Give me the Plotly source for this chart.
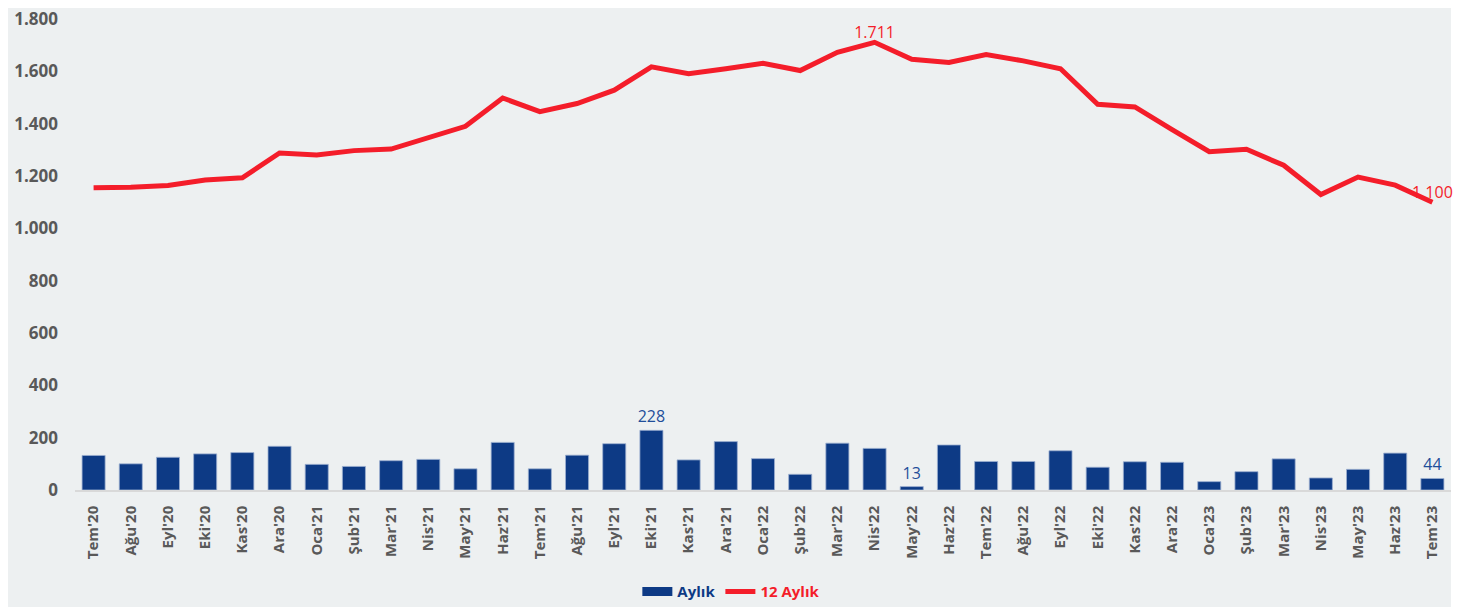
import plotly.graph_objects as go

months = [
    "Tem'20", "Ağu'20", "Eyl'20", "Eki'20", "Kas'20", "Ara'20",
    "Oca'21", "Şub'21", "Mar'21", "Nis'21", "May'21", "Haz'21",
    "Tem'21", "Ağu'21", "Eyl'21", "Eki'21", "Kas'21", "Ara'21",
    "Oca'22", "Şub'22", "Mar'22", "Nis'22", "May'22", "Haz'22",
    "Tem'22", "Ağu'22", "Eyl'22", "Eki'22", "Kas'22", "Ara'22",
    "Oca'23", "Şub'23", "Mar'23", "Nis'23", "May'23", "Haz'23",
    "Tem'23",
]
aylik = [
    132, 100, 125, 138, 143, 167,
    98, 90, 112, 117, 81, 182,
    81, 133, 177, 228, 115, 185,
    120, 60, 179, 159, 13, 172,
    109, 109, 150, 87, 108, 106,
    32, 70, 119, 46, 79, 141,
    44,
]
on_iki_aylik = [
    1155, 1157, 1164, 1185, 1193, 1288,
    1280, 1297, 1303, 1348, 1390, 1498,
    1446, 1477, 1528, 1617, 1591, 1610,
    1631, 1603, 1673, 1711, 1646, 1634,
    1664, 1640, 1610, 1474, 1464, 1377,
    1293, 1302, 1241, 1129, 1196, 1165,
    1100,
]

# only max, min and last monthly values are labelled; same for the 12-month line
bar_labels = [""] * len(months)
for i in (aylik.index(max(aylik)), aylik.index(min(aylik)), len(aylik) - 1):
    bar_labels[i] = f"{aylik[i]}"
line_labels = [""] * len(months)
for i in (on_iki_aylik.index(max(on_iki_aylik)), len(on_iki_aylik) - 1):
    line_labels[i] = f"{on_iki_aylik[i]:,}".replace(",", ".")

BLUE = "#0D3A85"
RED = "#F41D2A"
GREY_TXT = "#595959"
BG = "#EDF0F1"
FONT = "Open Sans"

fig = go.Figure()
fig.add_trace(
    go.Bar(
        x=months,
        y=aylik,
        showlegend=False,
        marker={"color": BLUE, "line": {"color": "#9DB0D0", "width": 0.8}},
        text=bar_labels,
        textposition="outside",
        constraintext="none",
        textfont={"family": FONT, "size": 16, "color": "#1F4E9A"},
        cliponaxis=False,
    )
)
# legend entry drawn as a wide blue block like the original
fig.add_trace(
    go.Scatter(
        x=[None],
        y=[None],
        mode="lines",
        name=f"<b><span style='color:{BLUE}'>Aylık</span></b>",
        line={"color": BLUE, "width": 9},
    )
)
fig.add_trace(
    go.Scatter(
        x=months,
        y=on_iki_aylik,
        name=f"<b><span style='color:{RED}'>12 Aylık</span></b>",
        mode="lines+text",
        line={"color": RED, "width": 5},
        text=line_labels,
        textposition="top center",
        textfont={"family": FONT, "size": 16, "color": RED},
        cliponaxis=False,
    )
)

fig.add_shape(
    type="rect",
    xref="paper",
    yref="paper",
    x0=-0.06,
    x1=1.0,
    y0=-0.3,
    y1=1.1,
    fillcolor=BG,
    line={"width": 0},
    layer="below",
)

# page body adds an 8px offset, so the figure is 8px smaller on each axis
fig.update_layout(
    width=1465,
    height=599,
    margin={"l": 67, "r": 22, "t": 11, "b": 117, "autoexpand": False},
    paper_bgcolor="white",
    plot_bgcolor=BG,
    separators=",.",
    bargap=0.38,
    font={"family": FONT, "color": GREY_TXT},
    legend={
        "orientation": "h",
        "x": 0.477,
        "xanchor": "center",
        "y": -0.216,
        "yanchor": "middle",
        "font": {"family": FONT, "size": 15},
        "bgcolor": "rgba(0,0,0,0)",
        "itemwidth": 30,
        "tracegroupgap": 0,
    },
    showlegend=True,
)
fig.update_xaxes(
    range=[-0.5, len(months) - 0.5],
    tickangle=-90,
    tickfont={"family": FONT, "size": 15, "color": GREY_TXT, "weight": "bold"},
    showline=True,
    linecolor="#D9D9D9",
    linewidth=1.5,
    showgrid=False,
    ticklabelstandoff=8,
    automargin=False,
)
fig.update_yaxes(
    range=[0, 1800],
    dtick=200,
    tickformat=",d",
    tickfont={"family": FONT, "size": 17, "color": GREY_TXT, "weight": "bold"},
    showgrid=False,
    zeroline=False,
    ticklabelstandoff=16,
    ticklabeloverflow="allow",
    automargin=False,
)

fig.write_html("out.html")
